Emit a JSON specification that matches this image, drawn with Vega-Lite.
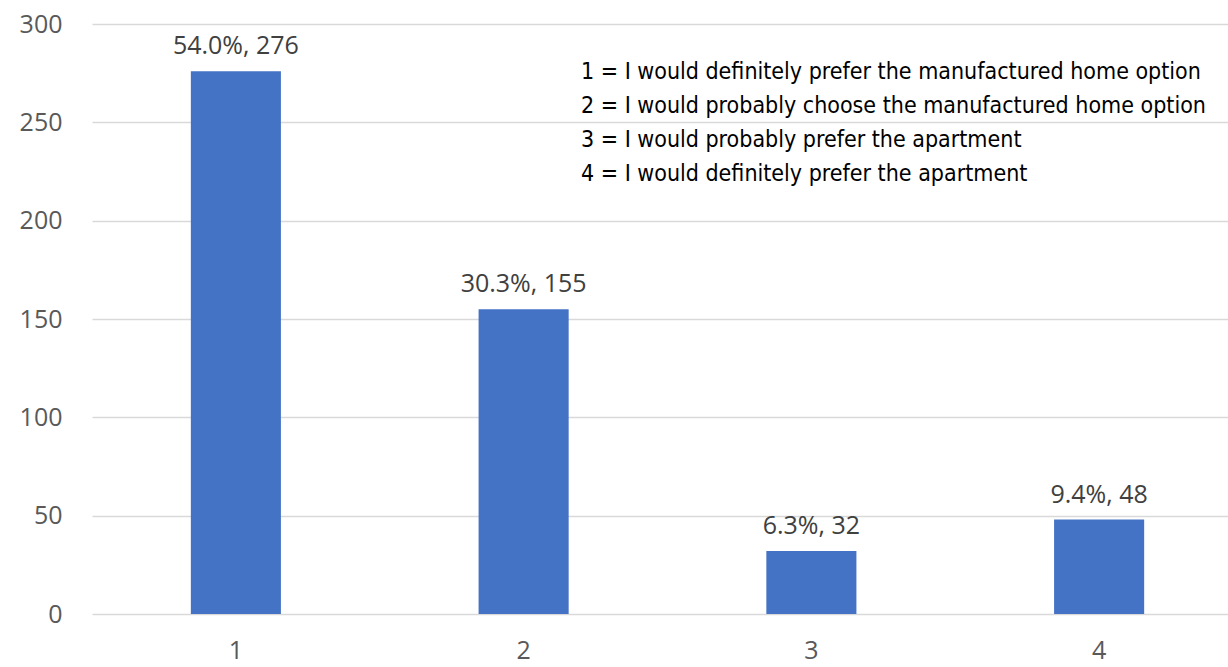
{
  "$schema": "https://vega.github.io/schema/vega-lite/v6.json",
  "width": 1136,
  "height": 590,
  "autosize": {"type": "none"},
  "padding": {"left": 92, "top": 24, "right": 0, "bottom": 53},
  "background": "#ffffff",
  "config": {
    "view": {"stroke": null},
    "font": "Open Sans"
  },
  "data": {
    "values": [
      {"choice": "1", "pct": "54.0%", "count": 276, "meaning": "1 = I would definitely prefer the manufactured home option"},
      {"choice": "2", "pct": "30.3%", "count": 155, "meaning": "2 = I would probably choose the manufactured home option"},
      {"choice": "3", "pct": "6.3%", "count": 32, "meaning": "3 = I would probably prefer the apartment"},
      {"choice": "4", "pct": "9.4%", "count": 48, "meaning": "4 = I would definitely prefer the apartment"}
    ]
  },
  "transform": [
    {"calculate": "datum.pct + ', ' + datum.count", "as": "label"}
  ],
  "encoding": {
    "x": {
      "field": "choice",
      "type": "nominal",
      "sort": null,
      "scale": {"range": [0, 1151], "paddingInner": 0.687, "paddingOuter": 0.3435},
      "axis": {
        "title": null,
        "labelAngle": 0,
        "labelFont": "Open Sans",
        "labelFontSize": 25,
        "labelColor": "#595959",
        "labelPadding": 36,
        "labelBaseline": "middle",
        "domain": false,
        "ticks": false
      }
    },
    "y": {
      "field": "count",
      "type": "quantitative",
      "scale": {"domain": [0, 300], "nice": false},
      "axis": {
        "title": null,
        "values": [0, 50, 100, 150, 200, 250, 300],
        "labelFont": "Open Sans",
        "labelFontSize": 25,
        "labelColor": "#595959",
        "labelPadding": 30,
        "domain": false,
        "ticks": false,
        "gridColor": "#d9d9d9",
        "gridWidth": 1.5
      }
    }
  },
  "layer": [
    {
      "mark": {"type": "bar", "color": "#4472C4"},
      "encoding": {
        "color": {
          "field": "meaning",
          "type": "nominal",
          "sort": null,
          "scale": {"range": ["#4472C4"]},
          "legend": {
            "title": null,
            "orient": "none",
            "legendX": 466,
            "legendY": 36,
            "symbolSize": 0,
            "symbolOpacity": 0,
            "symbolStrokeWidth": 0,
            "labelOffset": 0,
            "labelFont": "DejaVu Sans Condensed, Liberation Sans",
            "labelFontSize": 23,
            "labelColor": "#000000",
            "labelLimit": 800,
            "rowPadding": 10,
            "padding": 0
          }
        }
      }
    },
    {
      "mark": {"type": "text", "baseline": "bottom", "dy": -12, "font": "Open Sans", "fontSize": 25, "color": "#404040"},
      "encoding": {
        "text": {"field": "label"}
      }
    }
  ]
}
